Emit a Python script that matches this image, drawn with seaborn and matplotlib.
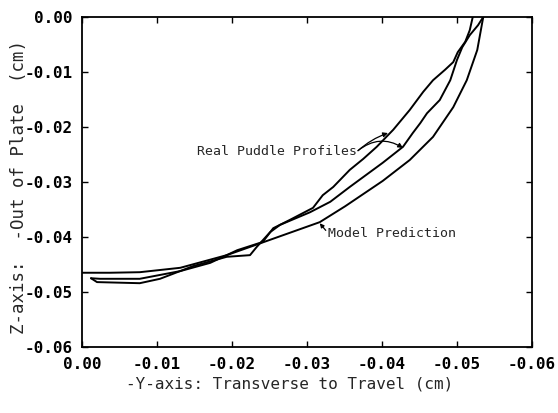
import matplotlib
matplotlib.use("Agg")
import matplotlib.pyplot as plt
import seaborn as sns
import pandas as pd

# ---- data (cm) ----
model_y = [0.0, -0.0037, -0.0077, -0.0131, -0.0193, -0.0251, -0.0317, -0.0351, -0.0401,
           -0.0437, -0.0468, -0.0495, -0.0513, -0.0527, -0.0535]
model_z = [-0.0465, -0.0465, -0.0464, -0.0456, -0.0433, -0.0405, -0.0373, -0.0344, -0.0298,
           -0.0260, -0.0218, -0.0164, -0.0115, -0.0060, 0.0]

prof1_y = [-0.0012, -0.0024, -0.0077, -0.0131, -0.0171, -0.0207, -0.0241, -0.0255, -0.0277,
           -0.0308, -0.0321, -0.0335, -0.0357, -0.0375, -0.0393, -0.0415, -0.0437, -0.0455,
           -0.0468, -0.0484, -0.0495, -0.0501, -0.0511, -0.0517, -0.0521]
prof1_z = [-0.0475, -0.0476, -0.0476, -0.0462, -0.0447, -0.0424, -0.0409, -0.0384, -0.0369,
           -0.0347, -0.0324, -0.0309, -0.0278, -0.0258, -0.0236, -0.0205, -0.0169, -0.0136,
           -0.0115, -0.0096, -0.0082, -0.0064, -0.0045, -0.0024, 0.0]

prof2_y = [-0.0012, -0.0020, -0.0077, -0.0104, -0.0148, -0.0193, -0.0224, -0.0233, -0.0251,
           -0.0264, -0.0304, -0.0331, -0.0357, -0.0401, -0.0428, -0.0441, -0.0451, -0.0460,
           -0.0477, -0.0491, -0.0500, -0.0507, -0.0517, -0.0528, -0.0535]
prof2_z = [-0.0475, -0.0482, -0.0484, -0.0476, -0.0453, -0.0436, -0.0433, -0.0418, -0.0391,
           -0.0378, -0.0355, -0.0336, -0.0309, -0.0265, -0.0236, -0.0211, -0.0193, -0.0175,
           -0.0151, -0.0115, -0.0078, -0.0055, -0.0033, -0.0015, 0.0]

x_ticks = [0.0, -0.01, -0.02, -0.03, -0.04, -0.05, -0.06]
x_tick_labels = ["0.00", "-0.01", "-0.02", "-0.03", "-0.04", "-0.05", "-0.06"]
y_ticks = [0.0, -0.01, -0.02, -0.03, -0.04, -0.05, -0.06]
y_tick_labels = ["0.00", "-0.01", "-0.02", "-0.03", "-0.04", "-0.05", "-0.06"]

x_title = "-Y-axis: Transverse to Travel (cm)"
y_title = "Z-axis:  -Out of Plate  (cm)"
label_real = "Real Puddle Profiles"
label_model = "Model Prediction"

# annotation anchors (data coords)
real_text_pos = (-0.0153, -0.0245)
real_arrow_start = (-0.0368, -0.0243)
real_arrow_1 = (-0.0408, -0.0211)
real_arrow_2 = (-0.0428, -0.0238)
model_text_pos = (-0.0328, -0.0393)
model_arrow_start = (-0.0325, -0.0388)
model_arrow = (-0.0317, -0.0375)

frames = []
for name, ys, zs in [("model", model_y, model_z),
                     ("profile1", prof1_y, prof1_z),
                     ("profile2", prof2_y, prof2_z)]:
    frames.append(pd.DataFrame({"y": ys, "z": zs, "series": name}))
df = pd.concat(frames, ignore_index=True)

sns.set_style("white")
plt.rcParams["font.family"] = ["DejaVu Sans Mono", "DejaVu Sans"]

fig = plt.figure(figsize=(5.58, 4.13), dpi=100)
ax = fig.add_axes([82 / 558, 1 - 347 / 413, 450 / 558, 330 / 413])

sns.lineplot(data=df, x="y", y="z", hue="series", units="series", estimator=None,
             sort=False, palette=["black"] * 3, legend=False, linewidth=1.4, ax=ax)

ax.set_xlim(0.0, -0.06)
ax.set_ylim(-0.06, 0.0)
ax.set_xticks(x_ticks)
ax.set_xticklabels(x_tick_labels, fontsize=11.5, fontweight="bold")
ax.set_yticks(y_ticks)
ax.set_yticklabels(y_tick_labels, fontsize=11.5, fontweight="bold")
ax.tick_params(direction="in", length=4, width=1, top=True, right=True,
               bottom=True, left=True, pad=7, colors="black")
for s in ax.spines.values():
    s.set_visible(True)
    s.set_color("black")
    s.set_linewidth(1.3)

ax.set_xlabel(x_title, fontsize=11.5)
ax.set_ylabel(y_title, fontsize=12.5)
ax.xaxis.set_label_coords(0.462, -0.09)
ax.yaxis.set_label_coords(-0.12, 0.485)

ax.text(real_text_pos[0], real_text_pos[1], label_real, fontsize=9.5, va="center", ha="left")
ax.annotate("", xy=real_arrow_1, xytext=real_arrow_start,
            arrowprops=dict(arrowstyle="-|>", color="black", lw=0.9, mutation_scale=7,
                            shrinkA=0, shrinkB=0, connectionstyle="arc3,rad=-0.1"))
ax.annotate("", xy=real_arrow_2, xytext=real_arrow_start,
            arrowprops=dict(arrowstyle="-|>", color="black", lw=0.9, mutation_scale=7,
                            shrinkA=0, shrinkB=0, connectionstyle="arc3,rad=-0.35"))
ax.text(model_text_pos[0], model_text_pos[1], label_model, fontsize=9.5, va="center", ha="left")
ax.annotate("", xy=model_arrow, xytext=model_arrow_start,
            arrowprops=dict(arrowstyle="-|>", color="black", lw=0.9, mutation_scale=6,
                            shrinkA=0, shrinkB=0))

fig.savefig("out.png", dpi=100, facecolor="white")
